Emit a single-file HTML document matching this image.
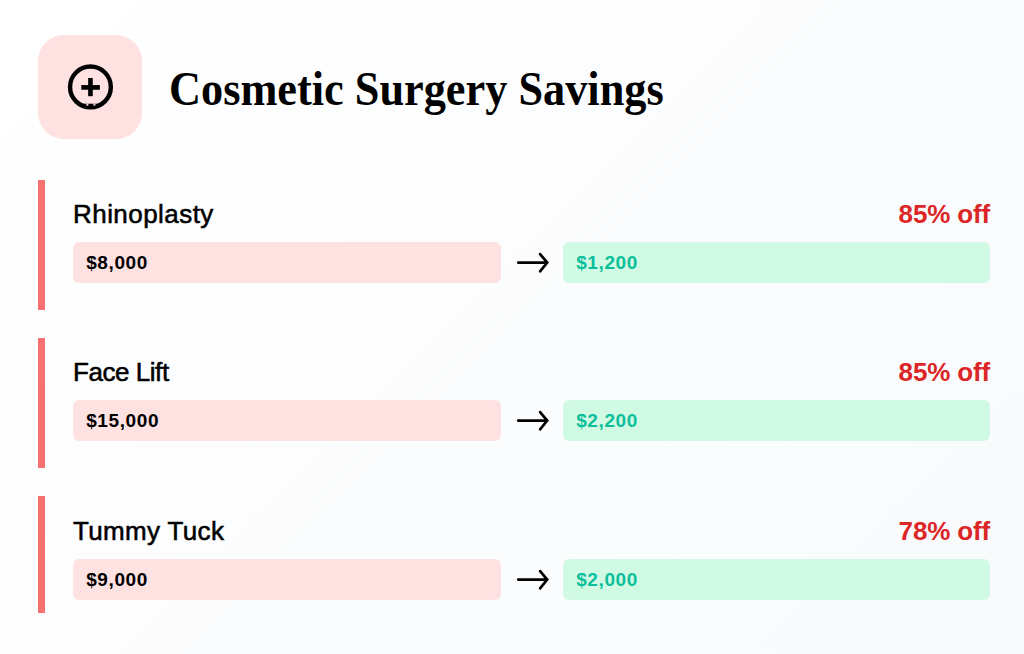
<!DOCTYPE html>
<html>
<head>
<meta charset="utf-8">
<style>
html,body{margin:0;padding:0;}
body{width:1024px;height:654px;overflow:hidden;position:relative;
  background:linear-gradient(135deg,#ffffff 0%,#f8fafc 100%);
  font-family:"Liberation Sans",sans-serif;color:#000;}
.iconbox{position:absolute;left:38px;top:35px;width:103.5px;height:103.5px;border-radius:26px;background:#fee2e2;}
.iconbox svg{position:absolute;left:0;top:0;}
.title{position:absolute;left:168.6px;top:61px;font-family:"Liberation Serif",serif;font-weight:bold;font-size:48px;line-height:56px;transform-origin:0 0;transform:scaleX(0.923);white-space:nowrap;color:#000;}
.item{position:absolute;left:38px;width:952px;height:130px;}
.bar{position:absolute;left:0;top:0;width:7px;height:130px;background:#f87171;}
.label{position:absolute;left:35px;font-size:26px;line-height:28px;white-space:nowrap;color:#000;-webkit-text-stroke:0.55px #000;}
.disc{position:absolute;right:0;font-size:26px;letter-spacing:-0.15px;line-height:28px;font-weight:bold;color:#dc2626;white-space:nowrap;}
.box{position:absolute;top:61.5px;height:41.2px;border-radius:6px;}
.old{left:35px;width:427.6px;background:#fee2e2;}
.new{left:525px;width:427px;background:#d1fae5;}
.price{position:absolute;left:13.2px;top:0;line-height:41.2px;font-size:19px;font-weight:bold;letter-spacing:0.6px;white-space:nowrap;}
.old .price{color:#000;}
.new .price{color:#0bbf9b;}
.arrow{position:absolute;left:472px;top:66px;}
</style>
</head>
<body>
<div class="iconbox">
  <svg width="104" height="104" viewBox="0 0 104 104">
    <circle cx="52.45" cy="51.9" r="20.4" fill="none" stroke="#000" stroke-width="4.4"/>
    <rect x="43.3" y="50.05" width="18.55" height="4.7" fill="#000"/>
    <rect x="50.15" y="43" width="4.6" height="18.2" fill="#000"/>
    <rect x="44" y="68.7" width="17" height="3.4" fill="#000"/>
    <rect x="48.4" y="68.6" width="2" height="2" fill="#fee2e2"/>
    <rect x="55.4" y="68.6" width="2" height="2" fill="#fee2e2"/>
  </svg>
</div>
<div class="title">Cosmetic Surgery Savings</div>

<div class="item" style="top:180px">
  <div class="bar"></div>
  <div class="label" style="top:20px;letter-spacing:0.45px">Rhinoplasty</div>
  <div class="disc" style="top:20px">85% off</div>
  <div class="box old"><span class="price">$8,000</span></div>
  <svg class="arrow" width="48" height="32" viewBox="0 0 48 32"><path d="M8.2 16.6H36.8M30.1 8.1L37.2 16.6L30.1 25.3" fill="none" stroke="#000" stroke-width="2.7" stroke-linecap="round" stroke-linejoin="miter"/></svg>
  <div class="box new"><span class="price">$1,200</span></div>
</div>

<div class="item" style="top:338px">
  <div class="bar"></div>
  <div class="label" style="top:20px;letter-spacing:-0.45px">Face Lift</div>
  <div class="disc" style="top:20px">85% off</div>
  <div class="box old"><span class="price">$15,000</span></div>
  <svg class="arrow" width="48" height="32" viewBox="0 0 48 32"><path d="M8.2 16.6H36.8M30.1 8.1L37.2 16.6L30.1 25.3" fill="none" stroke="#000" stroke-width="2.7" stroke-linecap="round" stroke-linejoin="miter"/></svg>
  <div class="box new"><span class="price">$2,200</span></div>
</div>

<div class="item" style="top:497px;height:117px">
  <div class="bar" style="top:-1px;height:117px"></div>
  <div class="label" style="top:20px;letter-spacing:0.35px">Tummy Tuck</div>
  <div class="disc" style="top:20px">78% off</div>
  <div class="box old"><span class="price">$9,000</span></div>
  <svg class="arrow" width="48" height="32" viewBox="0 0 48 32"><path d="M8.2 16.6H36.8M30.1 8.1L37.2 16.6L30.1 25.3" fill="none" stroke="#000" stroke-width="2.7" stroke-linecap="round" stroke-linejoin="miter"/></svg>
  <div class="box new"><span class="price">$2,000</span></div>
</div>
</body>
</html>
